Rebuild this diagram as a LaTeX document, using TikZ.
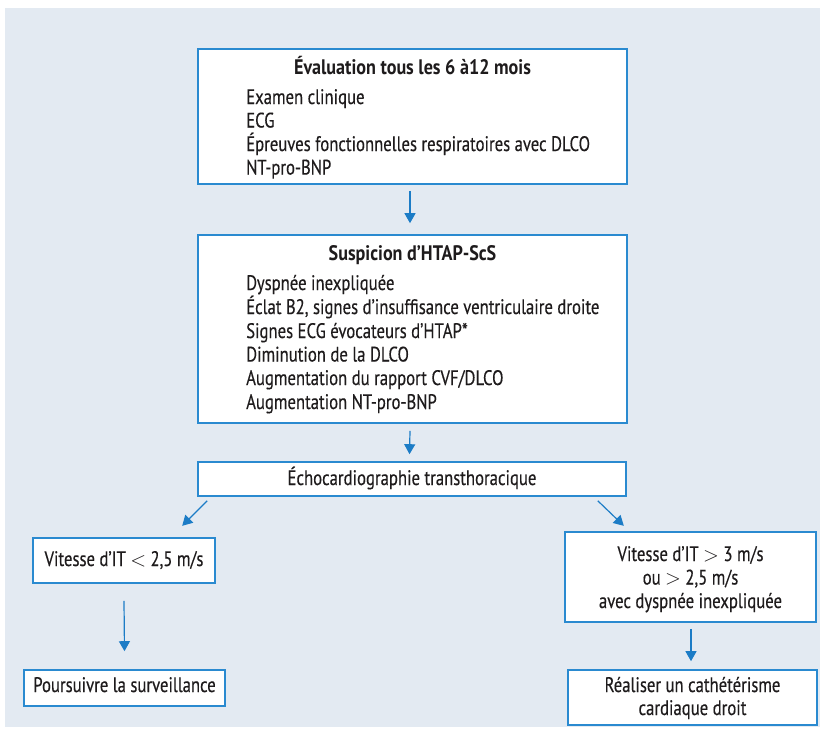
\documentclass[tikz,border=0pt]{standalone}
\usepackage{fontspec}
\setmainfont[FakeStretch=0.795, UprightFeatures={FakeBold=0.3}, BoldFeatures={FakeStretch=0.862}]{PT Sans}
\usetikzlibrary{arrows.meta}
\definecolor{bgc}{HTML}{E3EAF2}
\definecolor{bluec}{HTML}{2A8AD0}
\definecolor{arrc}{HTML}{1C7CC6}
\definecolor{txt}{HTML}{1E1B1C}
\tikzset{
  box/.style={draw=bluec, line width=1.6pt, fill=white, inner sep=0pt},
  txtn/.style={text=txt, inner sep=0pt, font=\fontsize{21}{24}\selectfont},
  ttl/.style={txtn, font=\fontsize{21}{24}\selectfont\bfseries},
  arr/.style={draw=arrc, line width=1.2pt, -{Triangle[width=11pt,length=10pt]}}
}
\begin{document}
\begin{tikzpicture}[x=1pt,y=-1pt]
\useasboundingbox (0,0) rectangle (820,732);
\fill[bgc] (5,8) rectangle (820,727);
% boxes
\node[box, minimum width=429pt, minimum height=135pt] (b1) at (412.5,116.5) {};
\node[box, minimum width=429pt, minimum height=188pt] (b2) at (412.5,329) {};
\node[box, minimum width=428pt, minimum height=34pt] (b3) at (412,479) {};
\node[box, minimum width=182pt, minimum height=45pt] (b4) at (124,560.5) {};
\node[box, minimum width=201pt, minimum height=36pt] (b5) at (124.5,688) {};
\node[box, minimum width=251pt, minimum height=90pt] (b6) at (690.5,577) {};
\node[box, minimum width=249pt, minimum height=55pt] (b7) at (692.5,697.5) {};
% texts
\node[ttl, anchor=base] (t1) at (412.5,74) {Évaluation tous les 6 à12 mois};
\node[txtn, anchor=base west] (l1a) at (246,104) {Examen clinique};
\node[txtn, anchor=base west] (l1b) at (246,127.5) {ECG};
\node[txtn, anchor=base west] (l1c) at (246,151) {Épreuves fonctionnelles respiratoires avec DLCO};
\node[txtn, anchor=base west] (l1d) at (246,174.5) {NT-pro-BNP};
\node[ttl, anchor=base] (t2) at (412.5,260) {Suspicion d’HTAP-ScS};
\node[txtn, anchor=base west] (l2a) at (246,290) {Dyspnée inexpliquée};
\node[txtn, anchor=base west] (l2b) at (246,314) {Éclat B2, signes d’insuffisance ventriculaire droite};
\node[txtn, anchor=base west] (l2c) at (246,338) {Signes ECG évocateurs d’HTAP*};
\node[txtn, anchor=base west] (l2d) at (246,361.5) {Diminution de la DLCO};
\node[txtn, anchor=base west] (l2e) at (246,385) {Augmentation du rapport CVF/DLCO};
\node[txtn, anchor=base west] (l2f) at (246,409) {Augmentation NT-pro-BNP};
\node[txtn, anchor=base] (t3) at (412,485) {Échocardiographie transthoracique};
\node[txtn, anchor=base] (t4) at (124,566) {Vitesse d’IT $<$ 2,5 m/s};
\node[txtn, anchor=base] (t5) at (124.5,692) {Poursuivre la surveillance};
\node[txtn, anchor=base] (t6a) at (690.5,561) {Vitesse d’IT $>$ 3 m/s};
\node[txtn, anchor=base] (t6b) at (690.5,584.5) {ou $>$ 2,5 m/s};
\node[txtn, anchor=base] (t6c) at (690.5,608) {avec dyspnée inexpliquée};
\node[txtn, anchor=base] (t7a) at (692.5,692) {Réaliser un cathétérisme};
\node[txtn, anchor=base] (t7b) at (692.5,715) {cardiaque droit};
% arrows
\draw[arr] ([xshift=-2.5pt,yshift=-6pt]b1.south) -- ([xshift=-2.5pt,yshift=11pt]b2.north);
\draw[arr] ([xshift=-2.5pt,yshift=-7pt]b2.south) -- ([xshift=-2.5pt,yshift=7pt]b3.north);
\draw[arr] ([xshift=10pt,yshift=-4pt]b3.south west) -- ([xshift=-15pt,yshift=-29pt]b3.south west);
\draw[arr] ([xshift=-29pt,yshift=-4pt]b3.south east) -- ([xshift=-3pt,yshift=-29pt]b3.south east);
\draw[arr] ([yshift=-17pt]b4.south) -- ([yshift=18pt]b5.north);
\draw[arr] ([xshift=0.5pt,yshift=-6pt]b6.south) -- ([xshift=-1.5pt,yshift=8pt]b7.north);
\end{tikzpicture}
\end{document}
